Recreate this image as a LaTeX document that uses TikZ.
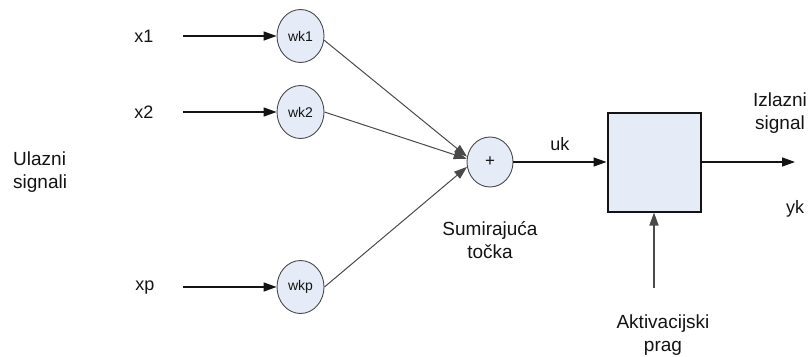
\documentclass[tikz,border=0pt]{standalone}
\usepackage{fontspec}
\setmainfont{Liberation Sans}
\usetikzlibrary{arrows.meta,shapes.geometric}
\definecolor{nodefill}{HTML}{E6ECF7}
\definecolor{rimgray}{HTML}{4A4A4A}
\definecolor{inkdark}{HTML}{141414}
\begin{document}
\begin{tikzpicture}[x=1pt,y=-1pt,
  lbl/.style={inner sep=0pt, text=inkdark, font=\fontsize{19}{23}\selectfont, align=center},
  sig/.style={inner sep=0pt, text=inkdark, font=\fontsize{18}{21}\selectfont},
  weight/.style={ellipse, draw=rimgray, fill=nodefill, line width=0.9pt,
    minimum width=47pt, minimum height=53pt, inner sep=0pt,
    text=inkdark, font=\fontsize{14}{16}\selectfont},
  sumnode/.style={weight, minimum width=46pt, minimum height=50pt,
    font=\fontsize{17}{19}\selectfont},
  actbox/.style={draw=inkdark, fill=nodefill, line width=2pt,
    minimum width=93pt, minimum height=99pt, inner sep=0pt},
  tip/.style={-{Triangle[length=13pt,width=9pt]}},
  flow/.style={tip, line width=1.3pt, draw=inkdark},
  wire/.style={tip, line width=1pt, draw=rimgray},
  feed/.style={tip, line width=1.6pt, draw=rimgray}]

\path[use as bounding box, fill=white] (0,0) rectangle (808,356);

% inputs
\node[sig] (x1) at (144,36) {x1};
\node[sig] (x2) at (144,112) {x2};
\node[sig] (xp) at (145,288) {xp};
\node[lbl, align=left, anchor=west] (ul) at (13,172) {Ulazni\\signali};

% weights
\node[weight] (w1) at (300.5,36) {wk1};
\node[weight] (w2) at (300.5,112) {wk2};
\node[weight] (wp) at (300.5,287) {wkp};

\coordinate (in1) at (183,36);
\coordinate (in2) at (183,112);
\coordinate (inp) at (183,287);
\draw[flow] (in1) -- (w1);
\draw[flow] (in2) -- (w2);
\draw[flow] (inp) -- (wp);

% summing junction
\node[sumnode] (sum) at (490,162) {+};
\node[lbl] (sumlbl) at (490,240) {Sumirajuća\\točka};
\draw[wire] (w1.-10) -- (sum.167);
\draw[wire] (w2.east) -- (sum.172);
\draw[wire] (wp.east) -- (sum.192);

% activation block
\node[actbox] (box) at (654,162) {};
\draw[flow] (sum) -- node[sig, above=11pt] (uk) {uk} (box);

\coordinate (outend) at (795,162);
\draw[flow] (box) -- (outend);
\node[lbl] (izl) at (780,113) {Izlazni\\signal};
\node[sig] (yk) at (795,209) {yk};

% threshold
\coordinate (thr) at (654,288);
\draw[feed] (thr) -- (box.south);
\node[lbl] (akt) at (663,335) {Aktivacijski\\prag};
\end{tikzpicture}
\end{document}
